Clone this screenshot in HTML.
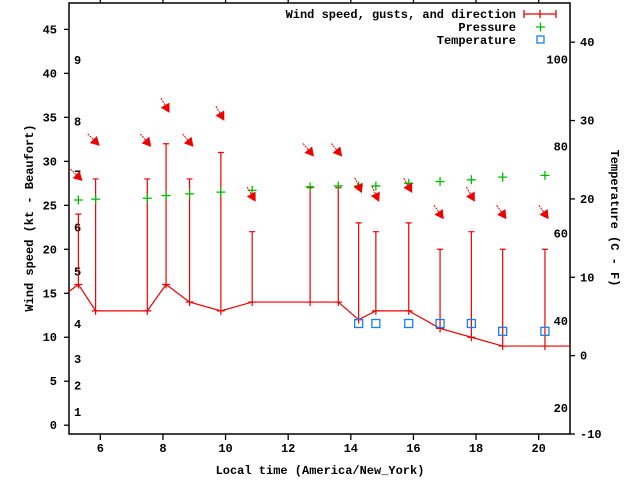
<!DOCTYPE html>
<html><head><meta charset="utf-8"><style>
body{margin:0;background:#fff}
svg text{font-family:"Liberation Mono",monospace;font-weight:bold;font-size:12px;fill:#000}
</style></head><body>
<svg id="c" width="640" height="480" viewBox="0 0 640 480">
<rect x="69" y="3" width="501" height="431" fill="none" stroke="#000" stroke-width="1.5"/>
<g id="axes"></g>
<g id="marks"></g>
<text x="0" y="0" transform="translate(33,218) rotate(-90)" text-anchor="middle">Wind speed (kt - Beaufort)</text>
<text x="0" y="0" transform="translate(611,218) rotate(90)" text-anchor="middle">Temperature (C - F)</text>
<text x="320" y="474" text-anchor="middle">Local time (America/New_York)</text>
<g>
<text x="516" y="18" text-anchor="end">Wind speed, gusts, and direction</text>
<path d="M524 14H556M524 10V18M556 10V18M540 10V18" stroke="#e00" stroke-width="1.3"/>
<text x="516" y="31" text-anchor="end">Pressure</text>
<path d="M536 27H545M540.5 22.5V31.5" stroke="#0b0" stroke-width="1.3"/>
<text x="516" y="44" text-anchor="end">Temperature</text>
<rect x="537" y="36" width="7" height="7" fill="none" stroke="#1a7fe8" stroke-width="1.3"/>
</g>
</svg>
<script>
const times=[5.3,5.85,7.5,8.1,8.85,9.85,10.85,12.7,13.6,14.25,14.8,15.85,16.85,17.85,18.85,20.2];
const wind=[16,13,13,16,14,13,14,14,14,12,13,13,11,10,9,9];
const gusts=[24,28,28,32,28,31,22,27,27,23,22,23,20,22,20,20];
const pressure=[25.6,25.7,25.8,26.1,26.3,26.5,26.7,27.1,27.2,27.2,27.2,27.5,27.7,27.9,28.2,28.4];
const arrowLevel=[28,32,31.9,35.8,31.9,34.9,25.7,30.8,30.8,26.7,25.7,26.7,23.7,25.7,23.7,23.7];
const windDir=[315,315,320,330,320,330,330,320,320,335,335,330,325,330,325,325];
const tempTimes=[14.25,14.8,15.85,16.85,17.85,18.85,20.2];
const tempC=[4.1,4.1,4.1,4.1,4.1,3.1,3.1];
const xTicks=[6,8,10,12,14,16,18,20];
const yTicks=[0,5,10,15,20,25,30,35,40,45];
const y2Ticks=[-10,0,10,20,30,40];
const fTicks=[20,40,60,80,100];
const beaufort=[[1,1.5],[2,4.5],[3,7.5],[4,11.5],[5,17.5],[6,22.5],[7,28.5],[8,34.5],[9,41.5]];

const X=t=>69+(t-5)*501/16;
const Y=v=>434-(v+1)*431/49;
const Y2=c=>434-(c+10)*431/55;
const NS='http://www.w3.org/2000/svg';
const ax=document.getElementById('axes'),mk=document.getElementById('marks');
function el(tag,attrs,parent,txt){const e=document.createElementNS(NS,tag);for(const k in attrs)e.setAttribute(k,attrs[k]);if(txt!==undefined)e.textContent=txt;parent.appendChild(e);return e;}

xTicks.forEach(t=>{
 const g=el('path',{d:`M${X(t)} 434V440M${X(t)} 3V-3`,stroke:'#000','stroke-width':1.3},ax);
 
 
 const l=el('text',{x:X(t),y:452,'text-anchor':'middle'},ax,t);
 
 
});
yTicks.forEach(v=>{
 const g=el('path',{d:`M64 ${Y(v)}H69`,stroke:'#000','stroke-width':1.3},ax);
 
 
 const l=el('text',{x:57,y:Y(v)+4,'text-anchor':'end'},ax,v);
 
 
});
y2Ticks.forEach(c=>{
 const g=el('path',{d:`M570 ${Y2(c)}H575`,stroke:'#000','stroke-width':1.3},ax);
 
 
 const l=el('text',{x:580,y:Y2(c)+4},ax,c);
 
 
});
fTicks.forEach(f=>{
 const l=el('text',{x:568,y:Y2((f-32)*5/9)+4,'text-anchor':'end'},ax,f);
 
 
});
beaufort.forEach(b=>{
 const l=el('text',{x:74,y:Y(b[1])+4},ax,b[0]);
 
 
});

// wind line
let d=`M69 ${Y(15.2)}`;
times.forEach((t,i)=>d+=`L${X(t)} ${Y(wind[i])}`);
d+=`L570 ${Y(wind[wind.length-1])}`;
const ln=el('path',{d:d,fill:'none',stroke:'#e00','stroke-width':1.2},mk);



times.forEach((t,i)=>{
 const x=X(t);
 const b=el('path',{d:`M${x} ${Y(wind[i])+4}V${Y(gusts[i])}M${x-3} ${Y(gusts[i])}H${x+3}M${x-4} ${Y(wind[i])}H${x+4}`,stroke:'#e00','stroke-width':1.2},mk);
 
 
 const p=el('path',{d:`M${x-4.5} ${Y(pressure[i])}H${x+4.5}M${x} ${Y(pressure[i])-4.5}V${Y(pressure[i])+4.5}`,stroke:'#0b0','stroke-width':1.3},mk);
 
 
 const a=windDir[i]*Math.PI/180;
 const dx=-Math.sin(a),dy=Math.cos(a);
 const hx=x+2,hy=Y(arrowLevel[i]);
 const g=el('g',{},mk);
 
 
 el('path',{d:`M${hx-dx*14} ${hy-dy*14}L${hx} ${hy}`,stroke:'#e00','stroke-width':1,'stroke-dasharray':'2 1'},g);
 const px=-dy,py=dx;
 el('path',{d:`M${hx+dx*3} ${hy+dy*3}L${hx-dx*6+px*5} ${hy-dy*6+py*5}L${hx-dx*6-px*5} ${hy-dy*6-py*5}Z`,fill:'#e00'},g);
});
tempTimes.forEach((t,i)=>{
 const r=el('rect',{x:X(t)-4,y:Y2(tempC[i])-4,width:8,height:8,fill:'none',stroke:'#1a7fe8','stroke-width':1.3},mk);
 
 
});
</script>
</body></html>
